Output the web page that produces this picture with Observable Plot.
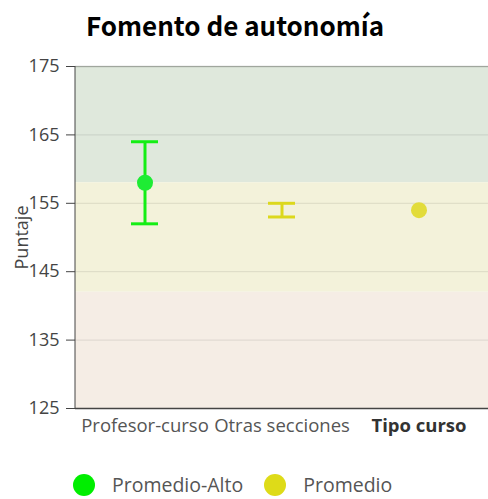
<!DOCTYPE html>
<html><head><meta charset="utf-8">
<script src="https://cdn.jsdelivr.net/npm/d3@7"></script>
<script src="https://cdn.jsdelivr.net/npm/@observablehq/plot@0.6"></script>
<style>
body{margin:0;background:#fff;font-family:"Open Sans",sans-serif;}
#wrap{position:relative;width:488px;height:499px;overflow:hidden;}
#title{position:absolute;left:86px;top:6px;font-family:"Noto Sans CJK SC","Open Sans",sans-serif;font-weight:bold;font-size:26px;line-height:38px;color:#000;white-space:nowrap;}
#chart{position:absolute;left:0;top:0;}
#legend{position:absolute;left:73px;top:474px;display:flex;align-items:center;font-size:19.5px;color:#555;line-height:22px;}
#legend .sw{width:22px;height:22px;border-radius:50%;display:inline-block;margin-right:17px;}
#legend .it{display:flex;align-items:center;margin-right:21px;}
</style></head>
<body><div id="wrap"><div id="chart"></div><div id="title">Fomento de autonomía</div><div id="legend"></div></div>
<script>
const categories = ["Profesor-curso", "Otras secciones", "Tipo curso"];
const seriesNames = ["Promedio-Alto", "Promedio"];
const barCategory = ["Profesor-curso", "Otras secciones"];
const barSeries = ["Promedio-Alto", "Promedio"];
const barLow = [152, 153];
const barHigh = [164, 155];
const dotCategory = ["Profesor-curso", "Tipo curso"];
const dotSeries = ["Promedio-Alto", "Promedio"];
const dotMean = [158, 154];
const bandNames = ["Alto", "Medio", "Bajo"];
const bandLow = [158, 142, 125];
const bandHigh = [175, 158, 142];
const yTicks = [125, 135, 145, 155, 165, 175];

const lineColor = {"Promedio-Alto": "#14ee14", "Promedio": "#dcd81c"};
const dotColor = {"Promedio-Alto": "#1eec34", "Promedio": "#e2dc3a"};
const legendColor = {"Promedio-Alto": "#00ee00", "Promedio": "#dedb18"};
const bandColor = {"Alto": "#dfe8dc", "Medio": "#f3f2da", "Bajo": "#f5ede5"};

const bars = barCategory.map((c, i) => ({cat: c, series: barSeries[i], low: barLow[i], high: barHigh[i]}));
const dots = dotCategory.map((c, i) => ({cat: c, series: dotSeries[i], mean: dotMean[i]}));
const bands = bandNames.map((b, i) => ({band: b, y1: bandLow[i], y2: bandHigh[i]}));

// left axis domain line
const leftLine = (index, scales, values, dims) => {
  const l = document.createElementNS("http://www.w3.org/2000/svg", "line");
  l.setAttribute("x1", dims.marginLeft); l.setAttribute("x2", dims.marginLeft);
  l.setAttribute("y1", dims.marginTop); l.setAttribute("y2", dims.height - dims.marginBottom);
  l.setAttribute("stroke", "#444");
  return l;
};

const chart = Plot.plot({
  width: 488, height: 450,
  marginTop: 66, marginBottom: 42, marginLeft: 75, marginRight: 0,
  style: {fontFamily: "Open Sans", background: "transparent"},
  x: {type: "band", domain: categories, padding: 0},
  y: {domain: [125, 175]},
  marks: [
    Plot.rect(bands, {y1: "y1", y2: "y2", fill: d => bandColor[d.band]}),
    Plot.gridY(yTicks, {stroke: "#000", strokeOpacity: 0.1}),
    Plot.ruleY([175], {stroke: "#000", strokeOpacity: 0.2, strokeWidth: 1.5}),
    leftLine,
    Plot.ruleY([125], {stroke: "#444", strokeWidth: 1.5}),
    Plot.ruleX(bars, {x: "cat", y1: "low", y2: "high", stroke: d => lineColor[d.series], strokeWidth: 3}),
    Plot.tickY(bars, {x: "cat", y: "low", stroke: d => lineColor[d.series], strokeWidth: 3, insetLeft: 55, insetRight: 55}),
    Plot.tickY(bars, {x: "cat", y: "high", stroke: d => lineColor[d.series], strokeWidth: 3, insetLeft: 55, insetRight: 55}),
    Plot.dot(dots, {x: "cat", y: "mean", r: 8, fill: d => dotColor[d.series]}),
    Plot.axisY({ticks: yTicks, tickSize: 9, tickPadding: 7, fontSize: 18, fill: "#444", stroke: "#444",
      label: "Puntaje", labelAnchor: "center", labelArrow: "none", labelOffset: 60}),
    Plot.axisX({ticks: categories.slice(0, 2), tickSize: 0, tickPadding: 10, fontSize: 18.5, fill: "#555", label: null}),
    Plot.axisX({ticks: categories.slice(2), tickSize: 0, tickPadding: 10, fontSize: 18.5, fontWeight: "bold", fill: "#333", label: null})
  ]
});
document.getElementById("chart").appendChild(chart);

const legend = document.getElementById("legend");
seriesNames.forEach(s => {
  const it = document.createElement("div");
  it.className = "it";
  const sw = document.createElement("span");
  sw.className = "sw";
  sw.style.background = legendColor[s];
  const t = document.createElement("span");
  t.textContent = s;
  it.appendChild(sw); it.appendChild(t);
  legend.appendChild(it);
});
</script>
</body></html>
